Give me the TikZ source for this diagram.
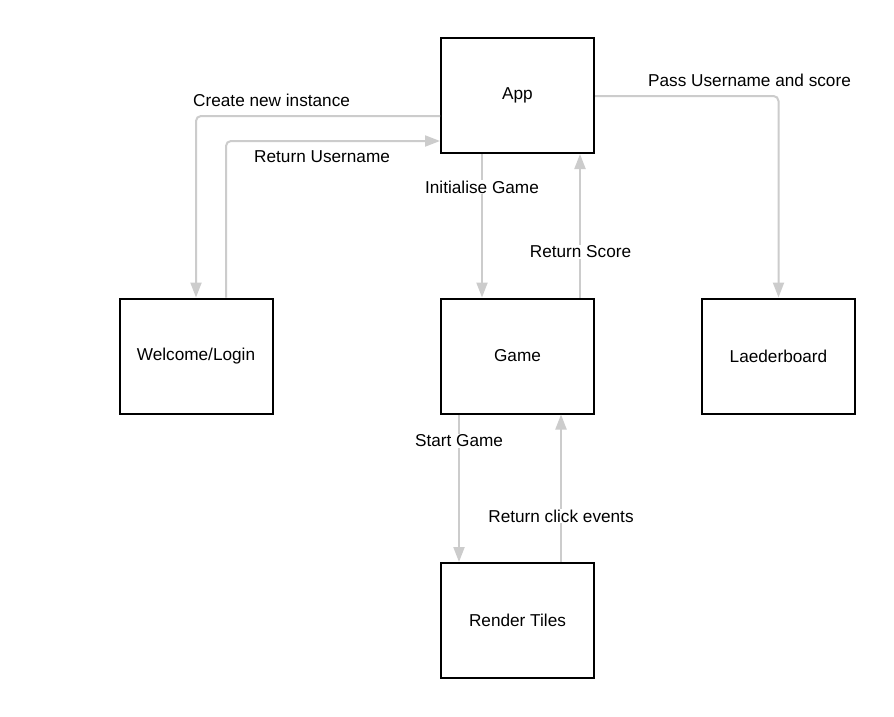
\documentclass[tikz,border=0pt]{standalone}
\usepackage{fontspec}
\setmainfont{Liberation Sans}
\usetikzlibrary{arrows.meta,calc}
\begin{document}
\begin{tikzpicture}[x=1pt,y=-1pt,
  box/.style={draw=black,line width=2pt,minimum width=153pt,minimum height=115pt,inner sep=0pt,font=\fontsize{17.2}{20}\selectfont},
  conn/.style={draw={rgb,255:red,204;green,204;blue,204},line width=2pt,rounded corners=5pt,-{Triangle[length=15pt,width=11pt]}},
  lbl/.style={fill=white,inner sep=1pt,font=\fontsize{17.2}{20}\selectfont}]
\useasboundingbox[fill=white] (0,0) rectangle (894,717);
\node[box] (app) at (517.5,95.5) {App};
\node[box] (wel) at (196,356) {Welcome/Login};
\node[box] (game) at (517.5,356) {Game};
\node[box] (lead) at (778.5,356) {Laederboard};
\node[box] (rend) at (517.5,620.5) {Render Tiles};
% App -> Welcome
\draw[conn] ($(app.west)+(0,20.5)$) -| (wel.north);
\node[lbl,anchor=west] (l1) at (192,100) {Create new instance};
% Welcome -> App
\draw[conn] ($(wel.north)+(30,0)$) |- ($(app.west)+(0,45.5)$);
\node[lbl,anchor=west] (l2) at (253,157) {Return Username};
% App -> Game
\draw[conn] ($(app.south)+(-35.5,0)$) -- ($(game.north)+(-35.5,0)$);
\node[lbl] (l3) at (482,187) {Initialise Game};
% Game -> App
\draw[conn] ($(game.north)+(62.5,0)$) -- ($(app.south)+(62.5,0)$);
\node[lbl] (l4) at (580.5,252) {Return Score};
% App -> Leaderboard
\draw[conn] ($(app.east)+(0,0.5)$) -| (lead.north);
\node[lbl,anchor=west] (l5) at (647,80) {Pass Username and score};
% Game -> Render
\draw[conn] ($(game.south)+(-58.5,0)$) -- ($(rend.north)+(-58.5,0)$);
\node[lbl] (l6) at (459,441) {Start Game};
% Render -> Game
\draw[conn] ($(rend.north)+(43.5,0)$) -- ($(game.south)+(43.5,0)$);
\node[lbl] (l7) at (561,516) {Return click events};
\end{tikzpicture}
\end{document}
